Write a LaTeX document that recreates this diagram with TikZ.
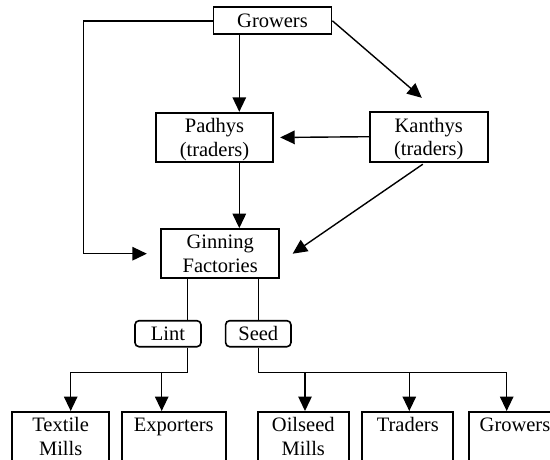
\documentclass[tikz,border=0pt]{standalone}
\usepackage{fontspec}
\setmainfont{Liberation Serif}
\usetikzlibrary{arrows.meta}
\begin{document}
\begin{tikzpicture}[x=1pt,y=-1pt,
  every node/.style={font=\fontsize{20.5}{23.5}\selectfont},
  box/.style={draw,line width=1.8pt,inner sep=0pt,align=center},
  tag/.style={draw,line width=1.6pt,inner sep=0pt,align=center,rounded corners=4pt,minimum width=66pt,minimum height=26pt},
  leaf/.style={draw,line width=1.8pt,inner xsep=0pt,inner ysep=2.5pt,align=center,anchor=north,font=\fontsize{20.5}{24}\selectfont},
  conn/.style={line width=1.4pt},
  arr/.style={conn,-{Triangle[length=14.5pt,width=13.5pt]}}]
\useasboundingbox (0,0) rectangle (550,459);
\clip (0,0) rectangle (550,459);
% nodes
\node[box,minimum width=118pt,minimum height=27pt] (grow) at (272.5,20.8) {Growers};
\node[box,minimum width=117.6pt,minimum height=49.6pt] (padhys) at (214.5,137.5) {Padhys\\\smash{(traders)}};
\node[box,minimum width=117.7pt,minimum height=50pt] (kanthys) at (428.8,136.7) {Kanthys\\\smash{(traders)}};
\node[box,minimum width=117.7pt,minimum height=49.3pt] (ginning) at (220.2,253.7) {Ginning\\Factories};
\node[tag] (lint) at (168,333.7) {Lint};
\node[tag,minimum width=65.3pt] (seed) at (258.3,333.7) {Seed};
\node[leaf,minimum width=96.7pt] (textile) at (60.7,411) {\strut Textile\\\strut Mills};
\node[leaf,minimum width=104.3pt] (export) at (173.8,411) {\strut Exporters\\\strut};
\node[leaf,minimum width=91.3pt] (oilseed) at (303.3,411) {\strut Oilseed\\\strut Mills};
\node[leaf,minimum width=91pt] (traders) at (407.8,411) {\strut Traders\\\strut};
\node[leaf,minimum width=92pt] (grow2) at (515,411) {\strut Growers\\\strut};
% helper coordinates
\coordinate (pg) at (239.3,0);
\coordinate (lx) at (187.7,372.3);
\coordinate (sx) at (258.3,372.3);
\coordinate (a1) at (70.7,372.3);
\coordinate (a2) at (161.7,372.3);
\coordinate (a3) at (305,372.3);
\coordinate (a4) at (409.3,372.3);
\coordinate (a5) at (506.7,372.3);
\coordinate (lcol) at (83.3,0);
% connectors
\draw[arr] (pg |- grow.south) -- (pg |- padhys.north);
\draw[arr] (pg |- padhys.south) -- (pg |- ginning.north);
\draw[arr] (grow.east) -- ([xshift=-7pt,yshift=13pt]kanthys.north);
\draw[arr,shorten >=6pt] (kanthys.west) -- (padhys.east);
\draw[arr] ([xshift=-6pt,yshift=-1.6pt]kanthys.south) -- ([xshift=12.7pt]ginning.east);
\draw[arr,shorten >=13.6pt] (grow.west) -- (lcol |- grow.west) -- (lcol |- ginning.west) -- (ginning.west);
\draw[conn] (lx |- ginning.south) -- (lx |- lint.north);
\draw[conn] (sx |- ginning.south) -- (sx |- seed.north);
\draw[arr] (lx |- lint.south) -- (lx) -- (a1) -- (a1 |- textile.north);
\draw[arr] (a2) -- (a2 |- export.north);
\draw[arr] (sx |- seed.south) -- (sx) -- (a5) -- (a5 |- grow2.north);
\draw[arr] (a3) -- (a3 |- oilseed.north);
\draw[arr] (a4) -- (a4 |- traders.north);
\end{tikzpicture}
\end{document}
